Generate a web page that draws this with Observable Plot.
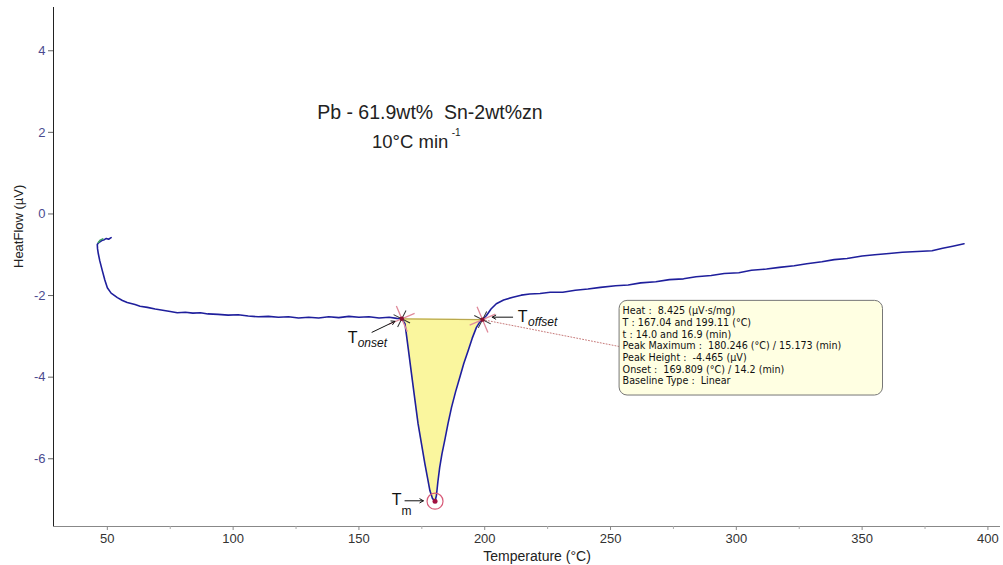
<!DOCTYPE html>
<html><head><meta charset="utf-8">
<script src="https://cdn.jsdelivr.net/npm/d3@7"></script>
<script src="https://cdn.jsdelivr.net/npm/@observablehq/plot@0.6"></script>
<style>body{margin:0;background:#fff} svg{display:block}</style>
</head><body><div id="chart"></div>
<script>
// ---- data ----
const temperature = [51.5,50.5,49.6,48.8,47.8,46.6,46.0,46.1,46.4,47.0,48.0,49.0,50.0,51.5,54.0,56.0,57.9,61,63,65.9,69,72,75,77.8,81,84,87,90,94,98,102,106,110,114,118,122,126,130,134,138,142,146,150,154,158,162,165,167.04,
  168.3,169.6,170.9,172.2,173.5,174.9,176.2,177.3,178.2,179.2,180.25,180.8,181.4,182.1,183.0,184.1,185.4,186.8,188.4,190.1,191.7,193.4,195.0,196.7,198.0,199.11,
  200.7,202.5,204.6,207.5,211.2,214.5,217.9,222,226,231,236,241,246,252,257,262,268,273.4,279,284,290,295.2,301,306,312,317.1,323,328,334,338.9,344,350,355,360.7,366,372,377.8,382,386,390.5];
const heatFlow = [-0.58,-0.62,-0.60,-0.63,-0.65,-0.70,-0.75,-0.85,-0.97,-1.15,-1.39,-1.62,-1.81,-1.94,-2.05,-2.12,-2.17,-2.22,-2.26,-2.29,-2.33,-2.36,-2.39,-2.42,-2.41,-2.43,-2.42,-2.45,-2.46,-2.48,-2.47,-2.50,-2.52,-2.51,-2.53,-2.52,-2.55,-2.53,-2.55,-2.52,-2.54,-2.51,-2.53,-2.52,-2.55,-2.53,-2.56,-2.57,
  -2.69,-3.30,-3.92,-4.53,-5.14,-5.65,-6.12,-6.48,-6.78,-6.97,-7.04,-6.90,-6.55,-6.21,-5.88,-5.55,-5.14,-4.74,-4.36,-4.00,-3.66,-3.35,-3.05,-2.78,-2.65,-2.59,
  -2.49,-2.33,-2.20,-2.11,-2.04,-1.99,-1.96,-1.95,-1.92,-1.92,-1.87,-1.84,-1.80,-1.76,-1.74,-1.69,-1.66,-1.61,-1.59,-1.54,-1.51,-1.46,-1.44,-1.38,-1.35,-1.31,-1.27,-1.22,-1.17,-1.12,-1.09,-1.03,-1.00,-0.97,-0.94,-0.92,-0.90,-0.84,-0.79,-0.73];
const greenTemp = [46.4,47.2,48.2];
const greenHeat = [-0.70,-0.64,-0.61];
const xTicks = [50,100,150,200,250,300,350,400];
const xMinorTicks = [75,125,175,225,275,325,375];
const yTicks = [-6,-4,-2,0,2,4];
const onsetT = 167.04, offsetT = 199.11;
const baselineHeat = [-2.57, -2.59];
const peakT = 180.246, peakHeat = -7.04;
const infoLines = [
  "Heat :  8.425 (\u00b5V\u00b7s/mg)",
  "T : 167.04 and 199.11 (\u00b0C)",
  "t : 14.0 and 16.9 (min)",
  "Peak Maximum :  180.246 (\u00b0C) / 15.173 (min)",
  "Peak Height :  -4.465 (\u00b5V)",
  "Onset :  169.809 (\u00b0C) / 14.2 (min)",
  "Baseline Type :  Linear"
];
const titleText = "Pb - 61.9wt%  Sn-2wt%zn";
const rateText = "10\u00b0C min";
const xLabel = "Temperature (\u00b0C)";
const yLabel = "HeatFlow (\u00b5V)";

// ---- build tables ----
const curve = temperature.map((t, i) => ({t, v: heatFlow[i]}));
const green = greenTemp.map((t, i) => ({t, v: greenHeat[i]}));
const base = t => baselineHeat[0] + (baselineHeat[1] - baselineHeat[0]) * (t - onsetT) / (offsetT - onsetT);
const peakArea = curve.filter(d => d.t >= onsetT && d.t <= offsetT).map(d => ({t: d.t, v: d.v, b: base(d.t)}));
const markers = [{t: onsetT, v: baselineHeat[0]}, {t: offsetT, v: baselineHeat[1]}];
const xDom = [28.6, 405], yDom = [-7.66, 5.06];

const chart = Plot.plot({
  width: 1003, height: 565,
  marginLeft: 53, marginRight: 3, marginTop: 7, marginBottom: 39,
  x: {domain: xDom},
  y: {domain: yDom},
  style: {fontFamily: "'Liberation Sans', Arial, sans-serif", fontSize: "13px", background: "#fff", overflow: "visible"},
  marks: [
    Plot.areaY(peakArea, {x: "t", y1: "b", y2: "v", fill: "#faf69e", curve: "linear"}),
    Plot.line(markers, {x: "t", y: "v", stroke: "#b9a84e", strokeWidth: 1.3}),
    Plot.line([{t: offsetT, v: baselineHeat[1]}, {t: 253.6, v: -3.25}], {x: "t", y: "v", stroke: "#c77a7a", strokeWidth: 1, strokeDasharray: "1,2"}),
    Plot.line(curve, {x: "t", y: "v", stroke: "#1f1f9c", strokeWidth: 1.6}),
    Plot.line(green, {x: "t", y: "v", stroke: "#3aa060", strokeWidth: 1.5}),
    // axes
    Plot.ruleX([xDom[0]], {stroke: "#222", strokeWidth: 1}),
    Plot.ruleY([yDom[0]], {stroke: "#888", strokeWidth: 1}),
    Plot.axisX(xTicks, {tickSize: 4, tickPadding: 3, stroke: "#888", fill: "#333", fontSize: 13, label: null}),
    Plot.axisX(xMinorTicks, {tickSize: 3, tickFormat: () => "", stroke: "#aaa", label: null}),
    Plot.axisY(yTicks, {tickSize: 5, tickPadding: 3, stroke: "#666", fill: "#4b4b8f", fontSize: 13,
      tickFormat: d => String(d), label: null}),
    Plot.text([yLabel], {frameAnchor: "left", dx: -35, dy: 1, rotate: -90, fontSize: 13, fill: "#222"}),
    Plot.text([xLabel], {x: 220.8, y: -8.4, fontSize: 14, fill: "#222"}),
    // title
    Plot.text([titleText], {x: 178.2, y: 2.48, fontSize: 19.5, fill: "#222"}),
    Plot.text([rateText], {x: 155.2, y: 1.75, fontSize: 18.5, fill: "#222", textAnchor: "start"}),
    Plot.text(["-1"], {x: 186.9, y: 1.99, fontSize: 10, fill: "#222", textAnchor: "start"}),
    // info box
    Plot.rect([0], {x1: 253.6, x2: 358.3, y1: -2.13, y2: -4.45, fill: "#ffffe2", stroke: "#777", strokeWidth: 1, rx: 8}),
    Plot.text([infoLines.join("\n")], {x: 254.8, y: -3.23, textAnchor: "start", lineAnchor: "middle",
      fontSize: 9.6, lineHeight: 1.216, fill: "#111", fontFamily: "'DejaVu Sans', sans-serif"}),
    // onset/offset markers
    Plot.dot(markers, {x: "t", y: "v", symbol: "times", r: 9, rotate: 22, stroke: "#e08a9a", strokeWidth: 1.3}),
    Plot.dot(markers, {x: "t", y: "v", symbol: "times", r: 6, rotate: -18, stroke: "#333", strokeWidth: 1}),
    Plot.dot(markers, {x: "t", y: "v", r: 2.2, fill: "#8b1030"}),
    // peak marker
    Plot.dot([{t: peakT, v: peakHeat}], {x: "t", y: "v", r: 2.5, fill: "#a01040"}),
    Plot.dot([{t: peakT, v: peakHeat}], {x: "t", y: "v", r: 8, stroke: "#d85a78", strokeWidth: 1.2}),
    // labels with arrows
    Plot.arrow([0], {x1: 155.2, y1: -2.9, x2: 164.3, y2: -2.63, stroke: "#111", strokeWidth: 1, headLength: 6}),
    Plot.text(["T"], {x: 145.6, y: -3.03, fontSize: 16, fill: "#111", textAnchor: "start"}),
    Plot.text(["onset"], {x: 149.5, y: -3.17, fontSize: 12, fontStyle: "italic", fill: "#111", textAnchor: "start"}),
    Plot.arrow([0], {x1: 211.1, y1: -2.53, x2: 203.0, y2: -2.53, stroke: "#111", strokeWidth: 1, headLength: 6}),
    Plot.text(["T"], {x: 213.1, y: -2.52, fontSize: 16, fill: "#111", textAnchor: "start"}),
    Plot.text(["offset"], {x: 217.2, y: -2.65, fontSize: 12, fontStyle: "italic", fill: "#111", textAnchor: "start"}),
    Plot.arrow([0], {x1: 168.3, y1: -7.03, x2: 175.6, y2: -7.03, stroke: "#111", strokeWidth: 1, headLength: 6}),
    Plot.text(["T"], {x: 163.0, y: -7.0, fontSize: 16, fill: "#111", textAnchor: "start"}),
    Plot.text(["m"], {x: 166.9, y: -7.28, fontSize: 12, fill: "#111", textAnchor: "start"})
  ]
});
document.getElementById("chart").appendChild(chart);
</script>
</body></html>
